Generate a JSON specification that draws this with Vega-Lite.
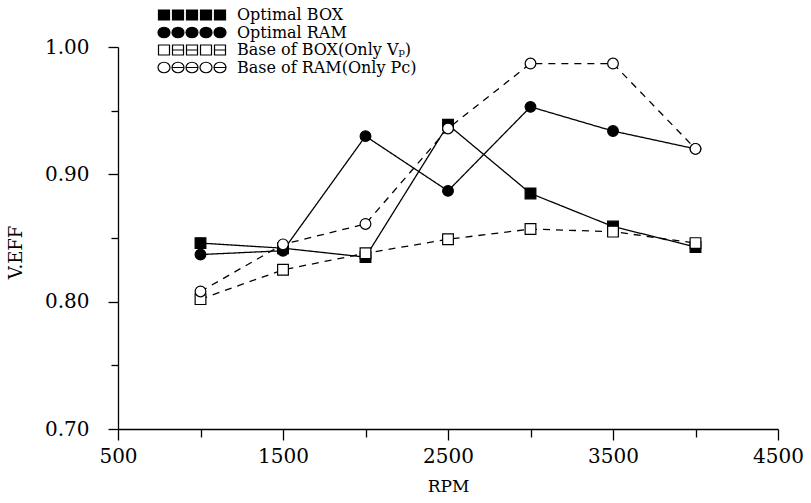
{
  "$schema": "https://vega.github.io/schema/vega-lite/v6.json",
  "width": 660,
  "height": 382,
  "autosize": "none",
  "padding": {"left": 118, "top": 47, "right": 33, "bottom": 74},
  "background": "white",
  "config": {"view": {"stroke": null}, "font": "DejaVu Serif"},
  "data": {
    "values": [
      {"series": "Optimal BOX", "rpm": 1000, "v": 0.846},
      {"series": "Optimal BOX", "rpm": 1500, "v": 0.842},
      {"series": "Optimal BOX", "rpm": 2000, "v": 0.835},
      {"series": "Optimal BOX", "rpm": 2500, "v": 0.939},
      {"series": "Optimal BOX", "rpm": 3000, "v": 0.885},
      {"series": "Optimal BOX", "rpm": 3500, "v": 0.859},
      {"series": "Optimal BOX", "rpm": 4000, "v": 0.843},
      {"series": "Optimal RAM", "rpm": 1000, "v": 0.837},
      {"series": "Optimal RAM", "rpm": 1500, "v": 0.840},
      {"series": "Optimal RAM", "rpm": 2000, "v": 0.930},
      {"series": "Optimal RAM", "rpm": 2500, "v": 0.887},
      {"series": "Optimal RAM", "rpm": 3000, "v": 0.953},
      {"series": "Optimal RAM", "rpm": 3500, "v": 0.934},
      {"series": "Optimal RAM", "rpm": 4000, "v": 0.920},
      {"series": "Base of BOX(Only Vₚ)", "rpm": 1000, "v": 0.802},
      {"series": "Base of BOX(Only Vₚ)", "rpm": 1500, "v": 0.825},
      {"series": "Base of BOX(Only Vₚ)", "rpm": 2000, "v": 0.838},
      {"series": "Base of BOX(Only Vₚ)", "rpm": 2500, "v": 0.849},
      {"series": "Base of BOX(Only Vₚ)", "rpm": 3000, "v": 0.857},
      {"series": "Base of BOX(Only Vₚ)", "rpm": 3500, "v": 0.855},
      {"series": "Base of BOX(Only Vₚ)", "rpm": 4000, "v": 0.846},
      {"series": "Base of RAM(Only Pc)", "rpm": 1000, "v": 0.808},
      {"series": "Base of RAM(Only Pc)", "rpm": 1500, "v": 0.845},
      {"series": "Base of RAM(Only Pc)", "rpm": 2000, "v": 0.861},
      {"series": "Base of RAM(Only Pc)", "rpm": 2500, "v": 0.936},
      {"series": "Base of RAM(Only Pc)", "rpm": 3000, "v": 0.987},
      {"series": "Base of RAM(Only Pc)", "rpm": 3500, "v": 0.987},
      {"series": "Base of RAM(Only Pc)", "rpm": 4000, "v": 0.920}
    ]
  },
  "encoding": {
    "x": {
      "field": "rpm",
      "type": "quantitative",
      "scale": {"domain": [500, 4500], "nice": false, "zero": false},
      "axis": {
        "title": "RPM",
        "values": [500, 1000, 1500, 2000, 2500, 3000, 3500, 4000, 4500],
        "format": "d",
        "labelExpr": "datum.value % 1000 === 500 ? datum.label : ''",
        "grid": false,
        "domainColor": "black",
        "domainWidth": 1.3,
        "tickColor": "black",
        "tickWidth": 1.3,
        "tickSize": {"condition": {"test": "datum.value % 1000 === 500", "value": 11}, "value": 8},
        "labelFontSize": 20,
        "labelColor": "black",
        "labelPadding": 6,
        "labelFlush": false,
        "titleFontSize": 17,
        "titleFontWeight": "normal",
        "titleColor": "black",
        "titlePadding": 12
      }
    },
    "y": {
      "field": "v",
      "type": "quantitative",
      "scale": {"domain": [0.7, 1.0], "nice": false, "zero": false},
      "axis": {
        "title": "V.EFF",
        "values": [0.7, 0.75, 0.8, 0.85, 0.9, 0.95, 1.0],
        "format": ".2f",
        "labelExpr": "abs(datum.value * 10 - round(datum.value * 10)) < 0.01 ? datum.label : ''",
        "grid": false,
        "domainColor": "black",
        "domainWidth": 1.3,
        "tickColor": "black",
        "tickWidth": 1.3,
        "tickSize": {"condition": {"test": "abs(datum.value * 10 - round(datum.value * 10)) < 0.01", "value": 10}, "value": 7},
        "labelFontSize": 20,
        "labelColor": "black",
        "labelPadding": 19,
        "labelFlush": false,
        "titleFontSize": 18,
        "titleFontWeight": "normal",
        "titleColor": "black",
        "titlePadding": 19,
        "titleY": 205
      }
    }
  },
  "layer": [
    {
      "mark": {"type": "line", "color": "black", "strokeWidth": 1.3},
      "encoding": {
        "detail": {"field": "series"},
        "strokeDash": {
          "condition": {"test": "indexof(datum.series, 'Optimal') === 0", "value": [1, 0]},
          "value": [7, 6]
        }
      }
    },
    {
      "mark": {"type": "point", "filled": true, "stroke": "black", "strokeWidth": 1.2, "size": 115, "opacity": 1},
      "encoding": {
        "shape": {
          "condition": {"test": "indexof(datum.series, 'BOX') >= 0", "value": "square"},
          "value": "circle"
        },
        "fill": {
          "condition": {"test": "indexof(datum.series, 'Optimal') === 0", "value": "black"},
          "value": "white"
        }
      }
    },
    {
      "mark": {"type": "point", "filled": true, "strokeWidth": 1.2, "opacity": 0},
      "encoding": {
        "shape": {
          "field": "series",
          "scale": {
            "domain": ["Optimal BOX", "Optimal RAM", "Base of BOX(Only Vₚ)", "Base of RAM(Only Pc)"],
            "range": [
              "M-1.1,-1H1.1V1H-1.1Z M1.7,-1H3.9V1H1.7Z M4.5,-1H6.7V1H4.5Z M7.3,-1H9.5V1H7.3Z M10.1,-1H12.3V1H10.1Z",
              "M-1.2,0A1.2,1.05 0 1,0 1.2,0A1.2,1.05 0 1,0 -1.2,0Z M1.6,0A1.2,1.05 0 1,0 4,0A1.2,1.05 0 1,0 1.6,0Z M4.4,0A1.2,1.05 0 1,0 6.8,0A1.2,1.05 0 1,0 4.4,0Z M7.2,0A1.2,1.05 0 1,0 9.6,0A1.2,1.05 0 1,0 7.2,0Z M10,0A1.2,1.05 0 1,0 12.4,0A1.2,1.05 0 1,0 10,0Z",
              "M-1.1,-1H1.1V1H-1.1Z M1.7,-1H3.9V1H1.7Z M1.7,0H3.9 M4.5,-1H6.7V1H4.5Z M4.5,0H6.7 M7.3,-1H9.5V1H7.3Z M10.1,-1H12.3V1H10.1Z M10.1,0H12.3",
              "M-1.2,0A1.2,1.05 0 1,0 1.2,0A1.2,1.05 0 1,0 -1.2,0Z M1.6,0A1.2,1.05 0 1,0 4,0A1.2,1.05 0 1,0 1.6,0Z M1.6,0H4 M4.4,0A1.2,1.05 0 1,0 6.8,0A1.2,1.05 0 1,0 4.4,0Z M4.4,0H6.8 M7.2,0A1.2,1.05 0 1,0 9.6,0A1.2,1.05 0 1,0 7.2,0Z M10,0A1.2,1.05 0 1,0 12.4,0A1.2,1.05 0 1,0 10,0Z M10,0H12.4"
            ]
          },
          "legend": {
            "orient": "none",
            "legendX": 38,
            "legendY": -40,
            "title": null,
            "symbolSize": 100,
            "symbolOpacity": 1,
            "symbolStrokeWidth": 1.2,
            "labelFontSize": 16,
            "labelColor": "black",
            "labelFont": "DejaVu Serif",
            "labelLimit": 400,
            "labelOffset": 65,
            "rowPadding": 1.5
          }
        },
        "fill": {
          "field": "series",
          "scale": {
            "domain": ["Optimal BOX", "Optimal RAM", "Base of BOX(Only Vₚ)", "Base of RAM(Only Pc)"],
            "range": ["black", "black", "white", "white"]
          }
        },
        "stroke": {
          "field": "series",
          "scale": {
            "domain": ["Optimal BOX", "Optimal RAM", "Base of BOX(Only Vₚ)", "Base of RAM(Only Pc)"],
            "range": ["black", "black", "black", "black"]
          }
        }
      }
    }
  ]
}
